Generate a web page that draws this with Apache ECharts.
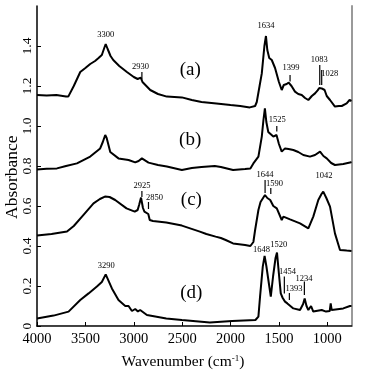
<!DOCTYPE html>
<html>
<head>
<meta charset="utf-8">
<script src="https://cdn.jsdelivr.net/npm/echarts@6/dist/echarts.min.js"></script>
<style>
html,body{margin:0;padding:0;background:#fff;}
#chart{width:366px;height:375px;}
</style>
</head>
<body>
<div id="chart"></div>
<script>
// ---- data: [wavenumber (cm-1), absorbance] ----
var spectrumA = [
  [4000,1.155],[3900,1.152],[3800,1.155],[3700,1.148],[3677,1.147],[3620,1.20],[3553,1.27],[3500,1.29],
  [3450,1.31],[3400,1.325],[3364,1.34],[3330,1.355],[3305,1.39],[3290,1.41],[3270,1.385],[3240,1.35],
  [3212,1.33],[3150,1.30],[3071,1.27],[3000,1.245],[2960,1.235],[2940,1.232],[2928,1.242],[2910,1.22],
  [2830,1.18],[2750,1.16],[2658,1.147],[2503,1.143],[2400,1.13],[2300,1.12],[2146,1.113],[2000,1.105],
  [1900,1.10],[1801,1.093],[1746,1.10],[1729,1.12],[1700,1.20],[1677,1.263],[1650,1.40],[1634,1.45],
  [1620,1.38],[1600,1.34],[1574,1.33],[1540,1.29],[1522,1.28],[1500,1.22],[1471,1.18],[1450,1.205],
  [1420,1.21],[1399,1.217],[1370,1.20],[1334,1.172],[1300,1.16],[1264,1.155],[1230,1.14],[1196,1.13],
  [1160,1.15],[1127,1.163],[1100,1.178],[1083,1.19],[1058,1.188],[1028,1.18],[1006,1.15],[972,1.13],
  [921,1.097],[880,1.10],[851,1.10],[835,1.095],[800,1.113],[780,1.105],[770,1.13],[766,1.12],[750,1.125]
];
var spectrumB = [
  [4000,0.783],[3900,0.786],[3794,0.788],[3700,0.80],[3587,0.813],[3450,0.847],[3347,0.888],[3320,0.92],
  [3295,0.955],[3280,0.94],[3243,0.87],[3158,0.838],[3054,0.83],[2985,0.818],[2950,0.825],[2916,0.838],
  [2848,0.817],[2750,0.805],[2658,0.797],[2503,0.78],[2400,0.79],[2300,0.795],[2163,0.80],[2100,0.795],
  [1974,0.78],[1850,0.785],[1795,0.788],[1764,0.813],[1712,0.847],[1677,0.947],[1660,1.03],[1645,1.088],
  [1630,1.02],[1610,0.97],[1592,0.963],[1558,0.947],[1525,0.955],[1500,0.91],[1471,0.872],[1437,0.888],
  [1400,0.885],[1351,0.88],[1300,0.87],[1248,0.855],[1179,0.847],[1127,0.855],[1075,0.872],[1040,0.85],
  [1006,0.838],[960,0.815],[921,0.805],[835,0.81],[766,0.817],[750,0.82]
];
var spectrumC = [
  [4000,0.452],[3850,0.46],[3690,0.472],[3620,0.50],[3535,0.547],[3416,0.613],[3350,0.635],[3298,0.647],
  [3250,0.645],[3192,0.63],[3075,0.588],[2990,0.572],[2960,0.58],[2945,0.605],[2925,0.642],[2905,0.59],
  [2890,0.572],[2870,0.565],[2850,0.56],[2835,0.53],[2802,0.525],[2664,0.517],[2503,0.502],[2490,0.497],
  [2317,0.472],[2250,0.46],[2154,0.447],[2100,0.44],[2050,0.43],[1974,0.413],[1850,0.405],[1795,0.40],
  [1764,0.42],[1746,0.48],[1712,0.58],[1690,0.62],[1644,0.655],[1620,0.64],[1590,0.63],[1558,0.60],
  [1522,0.588],[1471,0.53],[1454,0.547],[1385,0.533],[1282,0.513],[1196,0.488],[1145,0.547],[1093,0.63],
  [1060,0.66],[1042,0.672],[1010,0.64],[972,0.597],[921,0.463],[869,0.38],[800,0.377],[750,0.375]
];
var spectrumD = [
  [4000,0.038],[3829,0.052],[3674,0.072],[3553,0.13],[3467,0.163],[3381,0.197],[3330,0.22],[3290,0.258],
  [3226,0.188],[3158,0.13],[3088,0.10],[3054,0.10],[3019,0.075],[2985,0.085],[2957,0.073],[2934,0.08],
  [2864,0.055],[2664,0.038],[2503,0.03],[2214,0.018],[1983,0.025],[1743,0.03],[1712,0.047],[1695,0.147],
  [1667,0.297],[1648,0.35],[1630,0.30],[1600,0.20],[1584,0.147],[1560,0.25],[1535,0.34],[1520,0.367],
  [1500,0.26],[1481,0.163],[1461,0.14],[1454,0.147],[1437,0.122],[1413,0.113],[1393,0.12],[1351,0.088],
  [1282,0.08],[1250,0.11],[1234,0.138],[1215,0.10],[1196,0.08],[1168,0.10],[1145,0.072],[1058,0.08],
  [1013,0.072],[975,0.075],[965,0.113],[955,0.08],[938,0.083],[835,0.088],[766,0.10],[750,0.10]
];
// peak annotations: [wavenumber, absorbance, text]
var peakLabels = [
  [3290,1.455,'3300'],[2930,1.297,'2930'],[1633,1.50,'1634'],[1375,1.29,'1399'],[1083,1.333,'1083'],[975,1.26,'1028'],
  [1516,1.03,'1525'],
  [2916,0.70,'2925'],[2785,0.642,'2850'],[1643,0.755,'1644'],[1545,0.713,'1590'],[1034,0.75,'1042'],
  [3285,0.30,'3290'],[1680,0.38,'1648'],[1501,0.405,'1520'],[1411,0.27,'1454'],[1344,0.188,'1393'],[1241,0.238,'1234']
];
// annotation tick marks: [wavenumber, from, to]
var peakTicks = [
  [2916,1.27,1.233],[1385,1.255,1.222],[1078,1.305,1.205],[1058,1.28,1.205],
  [1522,1.0,0.972],
  [2916,0.675,0.645],[2848,0.62,0.585],[1643,0.73,0.665],[1584,0.69,0.66],
  [1444,0.247,0.163],[1392,0.165,0.13],[1237,0.222,0.155]
];
// sample labels
var sampleLabels = [[2417,1.28,'(a)'],[2417,0.93,'(b)'],[2405,0.63,'(c)'],[2405,0.165,'(d)']];
var xTicks = [1000,1500,2000,2500,3000,3500,4000];
var yTicks = [0,0.2,0.4,0.6,0.8,1.0,1.2,1.4];

var FONT = 'Liberation Serif';
var chart = echarts.init(document.getElementById('chart'), null, {renderer:'canvas'});
function lineSeries(d){
  return {type:'line', data:d, showSymbol:false, symbol:'none', smooth:false,
    lineStyle:{color:'#000', width:2}, silent:true, z:3};
}
function textSeries(d, size){
  return {type:'scatter', data:d, symbolSize:0, itemStyle:{color:'#000', opacity:1}, silent:true, z:5,
    label:{show:true, position:'inside', fontFamily:FONT, fontSize:size, color:'#000', opacity:1,
      textBorderWidth:0, textBorderColor:'transparent',
      formatter:function(p){return p.data[2];}}};
}
chart.setOption({
  animation:false,
  backgroundColor:'#fff',
  grid:{left:37, right:14.5, top:6, bottom:49, outerBoundsMode:'none', show:false},
  xAxis:[{
    type:'value', inverse:true, min:750, max:4000,
    axisLine:{show:true, lineStyle:{color:'#000', width:1.5}},
    axisTick:{show:true, inside:true, length:4, lineStyle:{color:'#000'}, customValues:xTicks},
    axisLabel:{fontFamily:FONT, fontSize:14.5, color:'#000', margin:6, customValues:xTicks,
      formatter:function(v){return String(v);}},
    splitLine:{show:false}
  },{
    type:'value', inverse:true, min:750, max:4000, position:'top',
    axisLine:{show:true, lineStyle:{color:'#444', width:1}},
    axisTick:{show:false}, axisLabel:{show:false}, splitLine:{show:false}
  }],
  yAxis:[{
    type:'value', min:0, max:1.6,
    axisLine:{show:true, lineStyle:{color:'#000', width:1.5}},
    axisTick:{show:true, inside:true, length:4, lineStyle:{color:'#000'}, customValues:yTicks},
    axisLabel:{fontFamily:FONT, fontSize:13.5, color:'#000', rotate:90, margin:3, customValues:yTicks,
      formatter:function(v){return v===0?'0':v.toFixed(1);}},
    splitLine:{show:false}
  },{
    type:'value', min:0, max:1.6, position:'right',
    axisLine:{show:true, lineStyle:{color:'#9a9a9a', width:2}},
    axisTick:{show:false}, axisLabel:{show:false}, splitLine:{show:false}
  }],
  graphic:[
    {type:'text', left:'center', top:354, style:{
      text:'Wavenumber (cm{sup|-1})', fontFamily:FONT, fontSize:15.5, fill:'#000',
      rich:{sup:{fontFamily:FONT, fontSize:9, verticalAlign:'top', padding:[0,0,7,0]}}
    }, x:10},
    {type:'text', x:3, y:219, rotation:Math.PI/2, style:{
      text:'Absorbance', fontFamily:FONT, fontSize:17.5, fill:'#000'
    }}
  ],
  series:[
    lineSeries(spectrumA), lineSeries(spectrumB), lineSeries(spectrumC), lineSeries(spectrumD),
    {type:'custom', data:peakTicks, silent:true, z:4,
      encode:{x:0, y:[1,2]},
      renderItem:function(params, api){
        var p1 = api.coord([api.value(0), api.value(1)]);
        var p2 = api.coord([api.value(0), api.value(2)]);
        return {type:'line', shape:{x1:p1[0], y1:p1[1], x2:p2[0], y2:p2[1]}, style:{stroke:'#000', lineWidth:1.2}};
      }},
    textSeries(peakLabels, 8.5),
    textSeries(sampleLabels, 19)
  ]
});
</script>
</body>
</html>
